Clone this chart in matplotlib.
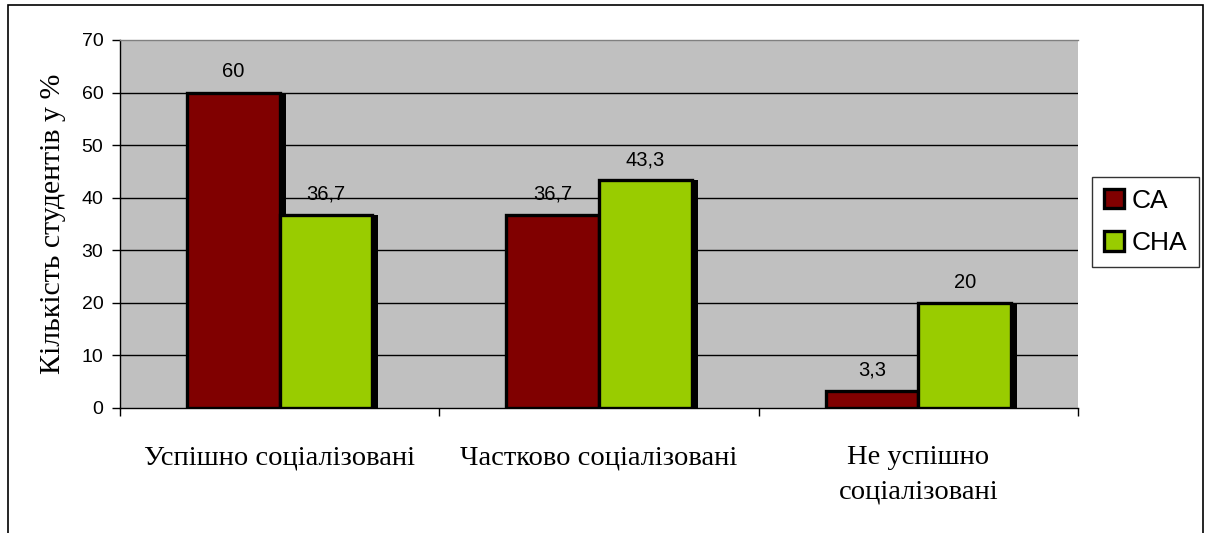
import matplotlib.pyplot as plt
import numpy as np
from matplotlib.patches import Rectangle

categories = ["Успішно соціалізовані", "Частково соціалізовані", "Не успішно\nсоціалізовані"]
ca = [60, 36.7, 3.3]
cha = [36.7, 43.3, 20]
series_names = ["CA", "CHA"]
colors = ["#800000", "#99CC00"]
yticks = list(range(0, 71, 10))

fig = plt.figure(figsize=(12.05, 5.33), dpi=100)
ax = fig.add_axes([120 / 1205, 1 - 408 / 533, 958 / 1205, 368 / 533])
ax.set_facecolor("#C0C0C0")

x = np.arange(len(categories))
w = 0.29
shadow_dx = 0.019

handles = []
for i, (vals, col) in enumerate(zip([ca, cha], colors)):
    pos = x + (i - 0.5) * w
    ax.bar(pos + shadow_dx, vals, w, color="black", zorder=2)
    b = ax.bar(pos, vals, w, color=col, edgecolor="black", linewidth=2.4, zorder=3)
    handles.append(b)
    for p, v in zip(pos, vals):
        ax.annotate(f"{v:g}".replace(".", ","), (p, v), xytext=(0, 15),
                    textcoords="offset points", ha="center", va="center",
                    fontsize=14.5, family="Liberation Sans", zorder=5)

ax.set_xlim(-0.5, 2.5)
ax.set_ylim(0, 70)
ax.set_yticks(yticks)
for t in yticks[1:-1]:
    ax.axhline(t, color="black", linewidth=1, zorder=1)

ax.set_xticks(x)
ax.set_xticklabels(categories, family="Liberation Serif", fontsize=20.5, linespacing=1.5)
ax.tick_params(axis="x", which="major", length=0, pad=27)
ax.set_xticks([-0.5, 0.5, 1.5, 2.5], minor=True)
ax.tick_params(axis="x", which="minor", length=6, width=1, direction="out")
ax.tick_params(axis="y", length=6, width=1, pad=6)
for lab in ax.get_yticklabels():
    lab.set_family("Liberation Sans")
    lab.set_fontsize(14)

ax.spines["right"].set_visible(False)
ax.spines["top"].set_color("#808080")
ax.spines["top"].set_linewidth(1)
ax.spines["left"].set_linewidth(1)
ax.spines["bottom"].set_linewidth(1)

ax.set_ylabel("Кількість студентів у %", family="Liberation Serif", fontsize=21.5, labelpad=11)

leg = fig.legend(handles, series_names, loc="upper left",
                 bbox_to_anchor=(1092 / 1205, 1 - 177 / 533),
                 prop={"family": "Liberation Sans", "size": 19},
                 frameon=True, fancybox=False, edgecolor="black",
                 handlelength=0.75, handleheight=0.75, handletextpad=0.3,
                 borderpad=0.45, labelspacing=0.7, borderaxespad=0)
leg.get_frame().set_linewidth(1)

fig.patches.append(Rectangle((8 / 1205, -0.1), 1195 / 1205, 1.1 - 5 / 533,
                             transform=fig.transFigure, fill=False,
                             edgecolor="black", linewidth=1.2))

fig.savefig("out.png", dpi=100)
